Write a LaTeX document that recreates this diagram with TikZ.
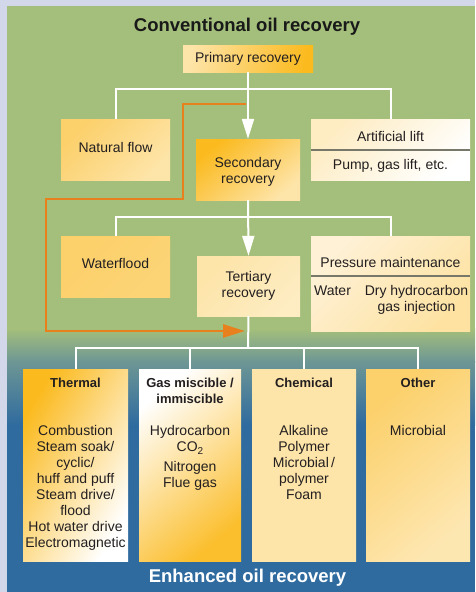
\documentclass[tikz,border=0pt]{standalone}
\usepackage{fontspec}
\setmainfont{Liberation Sans}
\usetikzlibrary{arrows.meta}
\definecolor{bglav}{HTML}{D2D7EA}
\definecolor{pgreen}{HTML}{A4BF7B}
\definecolor{pteal}{HTML}{6D9694}
\definecolor{pblue}{HTML}{2F6B9F}
\definecolor{ostrong}{HTML}{FBBA1E}
\definecolor{omid}{HTML}{FCD06A}
\definecolor{olight}{HTML}{FDE4A8}
\definecolor{ocream}{HTML}{FEF1D6}
\definecolor{oline}{HTML}{E8801E}
\definecolor{txt}{HTML}{231F20}
\definecolor{divc}{HTML}{77776A}
\begin{document}
\begin{tikzpicture}[x=1pt,y=-1pt,
  box/.style={inner sep=0pt, shade, draw=none},
  lbl/.style={inner sep=0pt, anchor=base, text=txt, font=\fontsize{14}{16}\selectfont, align=center},
  hdr/.style={inner sep=0pt, anchor=base, text=txt, font=\fontsize{13}{16}\selectfont\bfseries, align=center},
  wire/.style={draw=white, line width=2pt},
  warrow/.style={wire, -{Triangle[length=20pt,width=12pt]}},
  oarrow/.style={draw=oline, line width=2.8pt, -{Triangle[length=22pt,width=13pt]}},
  divider/.style={draw=divc, line width=1.5pt}
]
\useasboundingbox (0,0) rectangle (475,592);
% background
\fill[bglav] (0,0) rectangle (475,592);
\fill[pgreen] (7,6) rectangle (475,329);
\shade[top color=pgreen, bottom color=pteal] (7,328.5) rectangle (475,362);
\shade[top color=pteal, bottom color=pblue] (7,361.5) rectangle (475,425);
\fill[pblue] (7,424.5) rectangle (475,592);

\node[inner sep=0pt, anchor=base, font=\fontsize{18.5}{20}\selectfont\bfseries, text=black!90] (title) at (247,31) {Conventional oil recovery};

% boxes
\node[box, minimum width=130pt, minimum height=27pt, left color=olight, right color=ostrong, shading angle=80] (prim) at (248,58.5) {};
\node[box, minimum width=109pt, minimum height=61pt, left color=omid, right color=olight, shading angle=45] (nat) at (115.5,149.5) {};
\node[box, minimum width=104pt, minimum height=61pt, left color=ostrong, right color=olight, shading angle=40] (sec) at (248,169.5) {};
\node[box, minimum width=159pt, minimum height=61pt, left color=olight!70, right color=white, shading angle=45] (art) at (390.5,149.5) {};
\node[box, minimum width=109pt, minimum height=61pt, left color=omid, middle color=ostrong, right color=omid!80!olight, shading angle=45] (wat) at (115.5,266.5) {};
\node[box, minimum width=103pt, minimum height=60pt, left color=olight, middle color=white, right color=olight!70, shading angle=45] (ter) at (248.5,286) {};
\node[box, minimum width=159pt, minimum height=95pt, left color=ocream, right color=olight!90!omid, shading angle=45] (pres) at (390.5,283.5) {};

\node[box, minimum width=105pt, minimum height=192pt, left color=ostrong, middle color=olight, right color=white, shading angle=60] (thermal) at (75.5,465) {};
\node[box, minimum width=102pt, minimum height=192pt, left color=white, middle color=olight, right color=ostrong!80!omid, shading angle=40] (gas) at (190,465) {};
\node[box, minimum width=104pt, minimum height=192pt, left color=olight, middle color=ostrong!85!omid, right color=olight, shading angle=40] (chem) at (304,465) {};
\node[box, minimum width=104pt, minimum height=192pt, left color=omid, middle color=olight, right color=olight!80!ocream, shading angle=40] (other) at (418,465) {};

% texts (base = baseline of the last line)
\node[lbl] (primT) at (248,62) {Primary recovery};
\node[lbl] (natT) at (115.5,152) {Natural flow};
\node[lbl] (secT) at (248,183.5) {Secondary\\recovery};
\node[lbl] (artT) at (390.5,141.7) {Artificial lift};
\node[lbl] (artB) at (390.5,169) {Pump, gas lift, etc.};
\draw[divider] (art.west |- 0,150) -- (art.east |- 0,150);
\node[lbl] (watT) at (115.5,268.7) {Waterflood};
\node[lbl] (terT) at (248.5,297.7) {Tertiary\\recovery};
\node[lbl] (presT) at (390.5,267.3) {Pressure maintenance};
\draw[divider] (pres.west |- 0,276) -- (pres.east |- 0,276);
\node[lbl] (presW) at (332.5,295) {Water};
\node[lbl] (presD) at (416.5,311) {Dry hydrocarbon\\gas injection};

\node[hdr] (thermalH) at (75.5,387) {Thermal};
\node[lbl] (thermalB) at (75.5,547) {Combustion\\Steam soak/\\cyclic/\\huff and puff\\Steam drive/\\flood\\Hot water drive\\Electromagnetic};
\node[hdr] (gasH) at (190,403) {Gas miscible /\\immiscible};
\node[lbl] (gasB) at (190,487) {Hydrocarbon\\CO\raisebox{-3pt}{\fontsize{10}{10}\selectfont 2}\\[4pt]Nitrogen\\Flue gas};
\node[hdr] (chemH) at (304,387) {Chemical};
\node[lbl] (chemB) at (304,499) {Alkaline\\Polymer\\Microbial\,/\\polymer\\Foam};
\node[hdr] (otherH) at (418,387) {Other};
\node[lbl] (otherB) at (418,435) {Microbial};

\node[inner sep=0pt, anchor=base, font=\fontsize{18.5}{20}\selectfont\bfseries, text=white] (eor) at (247.5,582) {Enhanced oil recovery};

% orange path
\coordinate (oa) at (246,104);
\coordinate (ob) at (183,104);
\coordinate (oc) at (183,199);
\coordinate (od) at (46,199);
\coordinate (oe) at (46,331);
\coordinate (of) at (245,331);
\draw[oarrow] (oa) -- (ob) -- (oc) -- (od) -- (oe) -- (of);

% white connectors
\coordinate (j1) at (248,89);
\coordinate (j2) at (248,217);
\coordinate (j3) at (248,348);
\draw[wire] (nat.north) |- (j1) -| (art.north);
\draw[warrow] (prim.south) -- (sec.north);
\draw[wire] (wat.north) |- (j2) -| (pres.north);
\draw[warrow] (sec.south) -- (ter.north);
\draw[wire] (ter.south) -- (j3);
\draw[wire] (thermal.north) |- (j3) -| (other.north);
\draw[wire] (gas.north) -- (gas.north |- j3);
\draw[wire] (chem.north) -- (chem.north |- j3);
\end{tikzpicture}
\end{document}
